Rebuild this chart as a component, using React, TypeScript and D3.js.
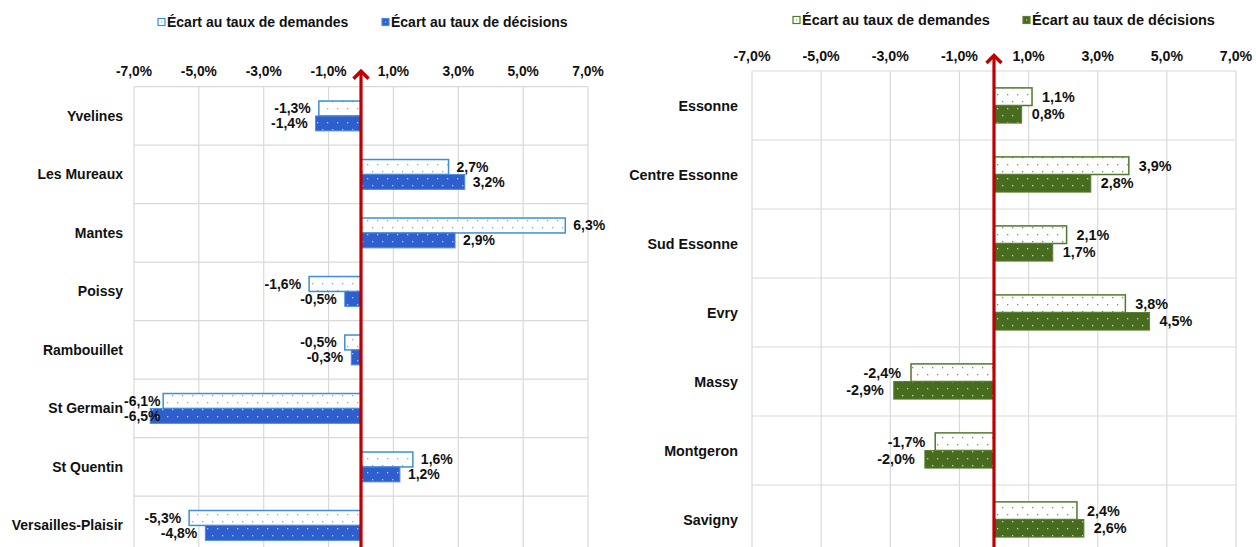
import React from 'react';
import * as d3 from 'd3';

// Yvelines panel
const yvCategories = ['Yvelines', 'Les Mureaux', 'Mantes', 'Poissy', 'Rambouillet', 'St Germain', 'St Quentin', 'Versailles-Plaisir'];
const yvDemandes = [-1.3, 2.7, 6.3, -1.6, -0.5, -6.1, 1.6, -5.3];
const yvDecisions = [-1.4, 3.2, 2.9, -0.5, -0.3, -6.5, 1.2, -4.8];

// Essonne panel
const esCategories = ['Essonne', 'Centre Essonne', 'Sud Essonne', 'Evry', 'Massy', 'Montgeron', 'Savigny'];
const esDemandes = [1.1, 3.9, 2.1, 3.8, -2.4, -1.7, 2.4];
const esDecisions = [0.8, 2.8, 1.7, 4.5, -2.9, -2.0, 2.6];

const tickValues = [-7, -5, -3, -1, 1, 3, 5, 7];
const seriesNames = ['Écart au taux de demandes', 'Écart au taux de décisions'];

const loc = d3.formatLocale({ decimal: ',', thousands: ' ', grouping: [3], currency: ['', ' €'], minus: '-' });
const fmt = (v: number) => loc.format('.1f')(v) + '%';

const FONT = "'Liberation Sans', Arial, sans-serif";
const measureCtx = typeof document !== 'undefined' ? document.createElement('canvas').getContext('2d') : null;
function textWidth(t: string, size: number) {
  if (!measureCtx) return t.length * size * 0.55;
  measureCtx.font = `bold ${size}px ${FONT}`;
  return measureCtx.measureText(t).width;
}

const panels = [
  {
    id: 'yv', categories: yvCategories, demandes: yvDemandes, decisions: yvDecisions,
    x0: 134, x1: 588, top: 86.7, band: 58.5, catRight: 123, tickY: 71, catSize: 14, tickSize: 13.8, valSize: 14, gap: 8,
    legendY: 22, legendX: [158, 382], legendSize: 14,
    demStroke: '#3f8fd2', demDot: '#8aaad6', decFill: '#2f5fcd', decStroke: '#4b8ddb', decDot: '#b3c8f2',
  },
  {
    id: 'es', categories: esCategories, demandes: esDemandes, decisions: esDecisions,
    x0: 752, x1: 1236, top: 71, band: 69, catRight: 738, tickY: 55.5, catSize: 14.3, tickSize: 14.2, valSize: 14.4, gap: 10,
    legendY: 20, legendX: [793, 1023], legendSize: 14.5,
    demStroke: '#4f7a2a', demDot: '#789957', decFill: '#476b1f', decStroke: '#5b8034', decDot: '#c8d6b0',
  },
];

function Panel({ p }: { p: typeof panels[number] }) {
  const x = d3.scaleLinear().domain([-7, 7]).range([p.x0, p.x1]);
  const bottom = p.top + p.band * p.categories.length;
  const y = d3.scaleBand().domain(p.categories).range([p.top, bottom]);
  const sub = d3.scaleBand().domain(['dem', 'dec']).range([0, y.bandwidth()]).paddingOuter(0.96);
  const zero = x(0);
  const tip = p.top - 17;

  const rows = p.categories.map((c, i) => ({ c, dem: p.demandes[i], dec: p.decisions[i] }));

  const valueLabel = (v: number, yc: number, key: string) => {
    const t = fmt(v);
    const w = textWidth(t, p.valSize);
    let xr: number;
    if (v < 0) {
      xr = x(v) - p.gap;
      if (xr - w < p.x0 - 10) xr = p.x0 - 10 + w;
    } else {
      xr = x(v) + p.gap + w;
    }
    return (
      <text key={key} x={xr} y={yc} textAnchor="end" dominantBaseline="central"
        fontSize={p.valSize} fontWeight="bold" fill="#111">{t}</text>
    );
  };

  return (
    <g>
      <defs>
        <pattern id={`${p.id}-dem`} patternUnits="userSpaceOnUse" width={10} height={14}>
          <rect width={10} height={14} fill="#fff" />
          <rect x={2} y={3} width={1.3} height={1.3} fill={p.demDot} />
          <rect x={7} y={10} width={1.3} height={1.3} fill={p.demDot} />
        </pattern>
        <pattern id={`${p.id}-dec`} patternUnits="userSpaceOnUse" width={10} height={14}>
          <rect width={10} height={14} fill={p.decFill} />
          <rect x={2} y={3} width={1.3} height={1.3} fill={p.decDot} />
          <rect x={7} y={10} width={1.3} height={1.3} fill={p.decDot} />
        </pattern>
      </defs>

      {/* grid */}
      {tickValues.map(t => (
        <line key={`v${t}`} x1={x(t)} x2={x(t)} y1={p.top} y2={bottom} stroke="#d9d9d9" strokeWidth={1.2} />
      ))}
      {d3.range(p.categories.length + 1).map(i => (
        <line key={`h${i}`} x1={p.x0} x2={p.x1} y1={p.top + i * p.band} y2={p.top + i * p.band} stroke="#d9d9d9" strokeWidth={1.2} />
      ))}

      {/* tick labels */}
      {tickValues.map(t => (
        <text key={`t${t}`} x={x(t)} y={p.tickY} textAnchor="middle" dominantBaseline="central"
          fontSize={p.tickSize} fontWeight="bold" fill="#111">{fmt(t)}</text>
      ))}

      {/* bars */}
      {rows.map(r => {
        const b = y(r.c)!;
        return (
          <g key={r.c}>
            <rect x={Math.min(zero, x(r.dem))} width={Math.abs(x(r.dem) - zero)} y={b + sub('dem')!} height={sub.bandwidth()}
              fill={`url(#${p.id}-dem)`} stroke={p.demStroke} strokeWidth={1.5} />
            <rect x={Math.min(zero, x(r.dec))} width={Math.abs(x(r.dec) - zero)} y={b + sub('dec')!} height={sub.bandwidth()}
              fill={`url(#${p.id}-dec)`} stroke={p.decStroke} strokeWidth={1} />
          </g>
        );
      })}

      {/* category labels */}
      {rows.map(r => (
        <text key={`c${r.c}`} x={p.catRight} y={y(r.c)! + y.bandwidth() / 2} textAnchor="end" dominantBaseline="central"
          fontSize={p.catSize} fontWeight="bold" fill="#111">{r.c}</text>
      ))}

      {/* red arrow axis */}
      <line x1={zero} x2={zero} y1={bottom + 10} y2={tip + 1} stroke="#c00000" strokeWidth={3.2} />
      <polyline points={`${zero - 7.5},${tip + 9} ${zero},${tip + 1.5} ${zero + 7.5},${tip + 9}`}
        fill="none" stroke="#c00000" strokeWidth={3.5} />

      {/* value labels */}
      {rows.map(r => {
        const b = y(r.c)!;
        return (
          <g key={`l${r.c}`}>
            {valueLabel(r.dem, b + sub('dem')! + sub.bandwidth() / 2, 'd')}
            {valueLabel(r.dec, b + sub('dec')! + sub.bandwidth() / 2, 'e')}
          </g>
        );
      })}

      {/* legend */}
      {seriesNames.map((s, i) => (
        <g key={s} transform={`translate(${p.legendX[i]},${p.legendY})`}>
          <rect x={0} y={-3.5} width={7} height={7}
            fill={i === 0 ? '#fff' : p.decFill} stroke={i === 0 ? p.demStroke : p.decStroke} strokeWidth={1.2} />
          <rect x={3} y={-0.5} width={1.2} height={1.2} fill={i === 0 ? p.demDot : p.decDot} />
          <text x={9} y={0} dominantBaseline="central" fontSize={p.legendSize} fontWeight="bold" fill="#111">{s}</text>
        </g>
      ))}
    </g>
  );
}

export default function App() {
  return (
    <div style={{ position: 'absolute', left: 0, top: 0, background: '#fff' }}>
      <svg width={1256} height={547} style={{ display: 'block', fontFamily: FONT }}>
        <rect width={1256} height={547} fill="#fff" />
        {panels.map(p => <Panel key={p.id} p={p} />)}
      </svg>
    </div>
  );
}
